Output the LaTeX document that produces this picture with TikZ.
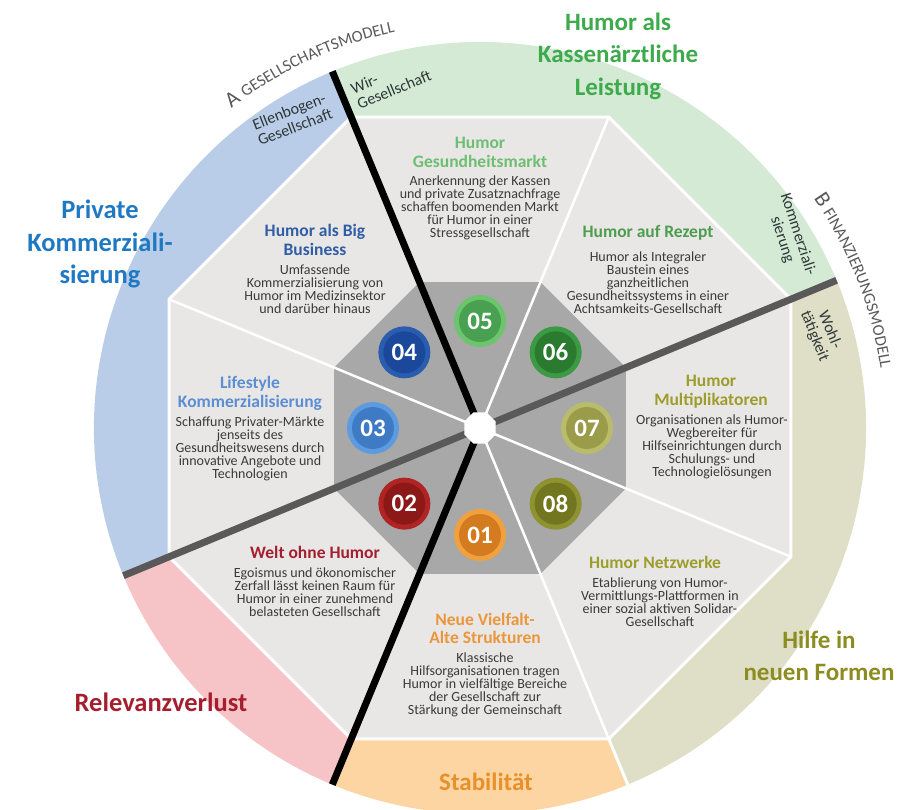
\documentclass[tikz,border=0pt]{standalone}
\usepackage{fontspec}
\setmainfont{Carlito}
\usetikzlibrary{decorations.text}
\definecolor{ringblue}{HTML}{BACDE8}
\definecolor{ringgreen}{HTML}{D4EAD5}
\definecolor{ringolive}{HTML}{DFDEC6}
\definecolor{ringpink}{HTML}{F6C4C7}
\definecolor{ringorange}{HTML}{FCD5A2}
\definecolor{octlight}{HTML}{E9E7E6}
\definecolor{octdark}{HTML}{A8A8A8}
\definecolor{axisgray}{HTML}{595959}
\definecolor{bodytext}{HTML}{3A3A3A}
\definecolor{ringtext}{HTML}{2E3838}
\definecolor{labelgray}{HTML}{595959}
\definecolor{tA}{HTML}{6DBE71}
\definecolor{tB}{HTML}{4C9E4F}
\definecolor{tC}{HTML}{9C9D2B}
\definecolor{tD}{HTML}{EB963A}
\definecolor{tE}{HTML}{A31F2F}
\definecolor{tF}{HTML}{5B8ED2}
\definecolor{tG}{HTML}{2F5DA6}
\definecolor{lgreen}{HTML}{3DAA4C}
\definecolor{lblue}{HTML}{1F79C2}
\definecolor{lred}{HTML}{A51E2E}
\definecolor{lorange}{HTML}{E8912A}
\definecolor{lolive}{HTML}{8C8C20}
\definecolor{bAo}{HTML}{F0A03C}\definecolor{bAi}{HTML}{D47B1F}
\definecolor{bBo}{HTML}{B02424}\definecolor{bBi}{HTML}{8C1818}
\definecolor{bCo}{HTML}{5D9BE0}\definecolor{bCi}{HTML}{3F7BC4}
\definecolor{bDo}{HTML}{2A5DB0}\definecolor{bDi}{HTML}{1B489A}
\definecolor{bEo}{HTML}{6CC46C}\definecolor{bEi}{HTML}{48A050}
\definecolor{bFo}{HTML}{3C9A44}\definecolor{bFi}{HTML}{2A7A30}
\definecolor{bGo}{HTML}{B9BC6A}\definecolor{bGi}{HTML}{9A9C4A}
\definecolor{bHo}{HTML}{8E9230}\definecolor{bHi}{HTML}{72761E}
\tikzset{
  badgeout/.style={circle, minimum size=52pt, inner sep=0pt},
  badgein/.style={circle, minimum size=42pt, inner sep=0pt, text=white, font=\fontsize{25}{25}\selectfont\bfseries},
  sectitle/.style={align=center, font=\fontsize{17.5}{18.5}\selectfont\bfseries},
  secbody/.style={align=center, text=bodytext, font=\fontsize{14}{13}\selectfont},
  biglabel/.style={align=center, font=\fontsize{25}{32.5}\selectfont\bfseries},
  ringlabel/.style={align=center, text=ringtext, font=\fontsize{16}{16.5}\selectfont},
}
\begin{document}
\lineskiplimit=-30pt
\begin{tikzpicture}[x=1pt,y=1pt]
\useasboundingbox (0,0) rectangle (900,-810);
\begin{scope}[shift={(480,-428)}]
  % ring sectors
  \fill[ringgreen] (0,0) -- (22.5:386) arc[start angle=22.5, end angle=112.5, radius=386] -- cycle;
  \fill[ringblue] (0,0) -- (112.5:386) arc[start angle=112.5, end angle=202.5, radius=386] -- cycle;
  \fill[ringpink] (0,0) -- (202.5:386) arc[start angle=202.5, end angle=247.5, radius=386] -- cycle;
  \fill[ringorange] (0,0) -- (247.5:386) arc[start angle=247.5, end angle=292.5, radius=386] -- cycle;
  \fill[ringolive] (0,0) -- (292.5:386) arc[start angle=292.5, end angle=382.5, radius=386] -- cycle;
  \draw[white, line width=3] (292.5:336) -- (292.5:386);
  % octagons
  \filldraw[fill=octlight, draw=white, line width=3] (22.5:336.6) \foreach \k in {1,...,7}{ -- ({22.5+45*\k}:336.6)} -- cycle;
  \fill[octdark] (22.5:158) \foreach \k in {1,...,7}{ -- ({22.5+45*\k}:158)} -- cycle;
  \foreach \k in {0,...,7} \draw[white, line width=2.5] (0,0) -- ({22.5+45*\k}:336.6);
  % axes
  \draw[axisgray, line width=7] (202.5:386) -- (22.5:386);
  \draw[black, line width=7] (112.5:386) -- (0,0) -- (247.5:386);
  \fill[white] (22.5:17) \foreach \k in {1,...,7}{ -- ({22.5+45*\k}:17)} -- cycle;
  % badges
  \foreach \ang/\num/\oc/\ic in {270/01/bAo/bAi, 225/02/bBo/bBi, 180/03/bCo/bCi, 135/04/bDo/bDi, 90/05/bEo/bEi, 45/06/bFo/bFi, 0/07/bGo/bGi, 315/08/bHo/bHi}{
    \node[badgeout, fill=\oc] (bo\num) at (\ang:107) {};
    \node[badgein, fill=\ic] (b\num) at (\ang:107) {\num};
  }
  % curved model labels
  \path[decorate, decoration={text along path, text align=center,
     text={|\color{labelgray}\fontsize{22}{22}\selectfont|A |\color{labelgray}\fontsize{16.5}{16.5}\selectfont|GESELLSCHAFTSMODELL}}]
     (145:405) arc[start angle=145, end angle=85, radius=405];
  \path[decorate, decoration={text along path, text align=center,
     text={|\color{labelgray}\fontsize{22}{22}\selectfont|B |\color{labelgray}\fontsize{16.5}{16.5}\selectfont|FINANZIERUNGSMODELL}}]
     (50:405) arc[start angle=50, end angle=-7, radius=405];
\end{scope}
% ring labels
\node[ringlabel, align=left, rotate=22.5] (wir) at (391,-82) {Wir-\\Gesellschaft};
\node[ringlabel, rotate=21] (ellb) at (292,-119) {Ellenbogen-\\Gesellschaft};
\node[ringlabel, rotate=-72] (komm) at (790,-237) {Kommerziali-\\sierung};
\node[ringlabel, rotate=-68] (wohl) at (822,-333) {Wohl-\\tätigkeit};
% big labels
\node[biglabel, text=lgreen] (lkass) at (618,-56) {Humor als\\Kassenärztliche\\Leistung};
\node[biglabel, text=lblue, font=\fontsize{26.5}{32.5}\selectfont\bfseries] (lpriv) at (100,-244) {Private\\Kommerziali-\\sierung};
\node[biglabel, text=lred, font=\fontsize{26.5}{32.5}\selectfont\bfseries] (lrel) at (161,-702) {Relevanzverlust};
\node[biglabel, text=lorange] (lstab) at (486,-782) {Stabilität};
\node[biglabel, text=lolive] (lhilfe) at (819,-656) {Hilfe in\\neuen Formen};
% sector texts
\node[sectitle, text=tA] (t05) at (480,-152.5) {Humor\\Gesundheitsmarkt};
\node[secbody] (s05) at (480,-208) {Anerkennung der Kassen\\und private Zusatznachfrage\\schaffen boomenden Markt\\für Humor in einer\\Stressgesellschaft};
\node[sectitle, text=tB] (t06) at (648,-233) {Humor auf Rezept};
\node[secbody] (s06) at (648,-283) {Humor als Integraler\\Baustein eines\\ganzheitlichen\\Gesundheitssystems in einer\\Achtsamkeits-Gesellschaft};
\node[sectitle, text=tC] (t07) at (711,-391.5) {Humor\\Multiplikatoren};
\node[secbody] (s07) at (712,-447) {Organisationen als Humor-\\Wegbereiter für\\Hilfseinrichtungen durch\\Schulungs- und\\Technologielösungen};
\node[sectitle, text=tC] (t08) at (655,-562) {Humor Netzwerke};
\node[secbody] (s08) at (660,-602) {Etablierung von Humor-\\Vermittlungs-Plattformen in\\einer sozial aktiven Solidar-\\Gesellschaft};
\node[sectitle, text=tD] (t01) at (485,-628.5) {Neue Vielfalt-\\Alte Strukturen};
\node[secbody] (s01) at (485,-685) {Klassische\\Hilfsorganisationen tragen\\Humor in vielfältige Bereiche\\der Gesellschaft zur\\Stärkung der Gemeinschaft};
\node[sectitle, text=tE] (t02) at (315,-552) {Welt ohne Humor};
\node[secbody] (s02) at (315,-592) {Egoismus und ökonomischer\\Zerfall lässt keinen Raum für\\Humor in einer zunehmend\\belasteten Gesellschaft};
\node[sectitle, text=tF] (t03) at (250,-393.5) {Lifestyle\\Kommerzialisierung};
\node[secbody] (s03) at (250,-449) {Schaffung Privater-Märkte\\jenseits des\\Gesundheitswesens durch\\innovative Angebote und\\Technologien};
\node[sectitle, text=tG] (t04) at (315,-240) {Humor als Big\\Business};
\node[secbody] (s04) at (315,-289) {Umfassende\\Kommerzialisierung von\\Humor im Medizinsektor\\und darüber hinaus};
\end{tikzpicture}
\end{document}
